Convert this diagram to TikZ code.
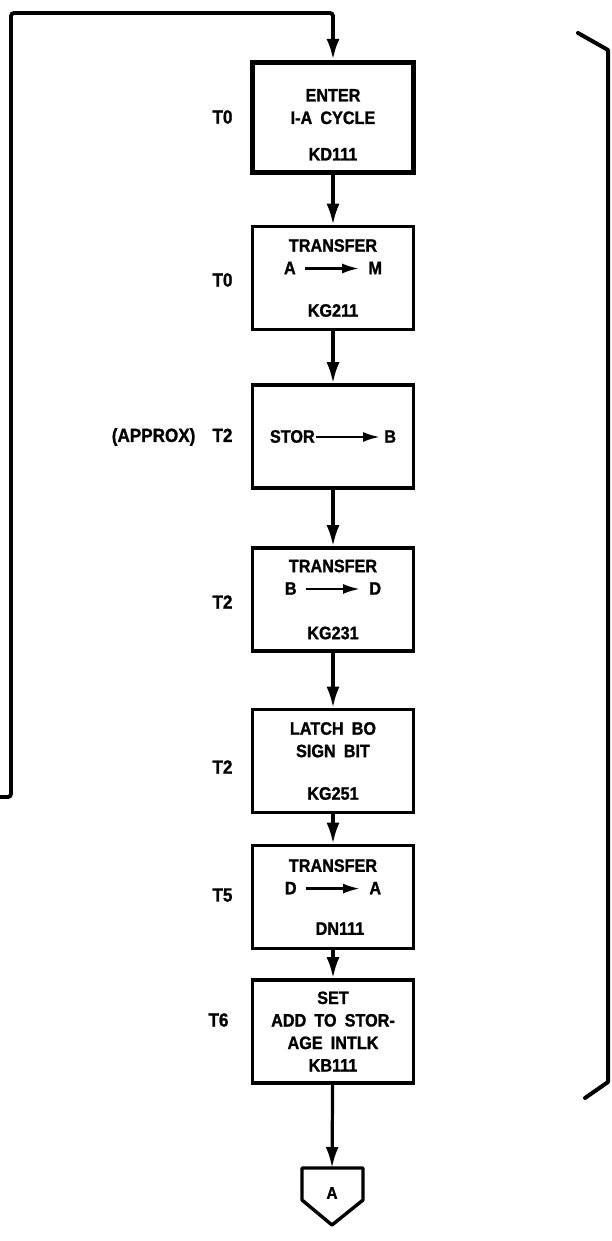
\documentclass[tikz,border=0pt]{standalone}
\usepackage{fontspec}
\usetikzlibrary{arrows.meta}
\newfontfamily\chartfont[FakeStretch=0.9,WordSpace=1.8,BoldFeatures={FakeBold=1.2}]{Liberation Sans}
\newcommand{\xferarrow}[1]{\tikz[baseline=-0.6ex]\draw[line width=2.6pt,-{Latex[length=17pt,width=10pt]}] (0pt,0pt) -- (#1,0pt);}

\begin{document}
\begin{tikzpicture}[x=1pt,y=-1pt,
  stepbox/.style={draw, line width=3.6pt, minimum width=161pt, minimum height=103pt, inner sep=0pt, align=center, font={\chartfont\bfseries\fontsize{18}{22.5}\selectfont}},
  flow/.style={line width=3.2pt, -{Latex[length=21pt,width=13pt]}},
  tlabel/.style={anchor=east, font={\chartfont\bfseries\fontsize{19}{22}\selectfont}}]
\useasboundingbox (0,0) rectangle (612,1241);
\node[stepbox, minimum height=110pt, line width=5pt] (b1) at (333,117.5) {\rule{0pt}{27pt}ENTER\\I-A CYCLE\\[14pt]KD111};
\node[stepbox] (b2) at (333,278) {TRANSFER\\A \xferarrow{54pt} M\\[20pt]KG211};
\node[stepbox] (b3) at (333,436.5) {STOR\xferarrow{64pt}\,B};
\node[stepbox] (b4) at (333,599.5) {TRANSFER\\B \xferarrow{54pt} D\\[22pt]KG231};
\node[stepbox] (b5) at (333,761) {LATCH BO\\SIGN BIT\\[20pt]KG251};
\node[stepbox] (b6) at (333,897) {TRANSFER\\D \xferarrow{54pt} A\\[18pt]\hspace*{14pt}DN111};
\node[stepbox] (b7) at (333,1031.5) {SET\\ADD TO STOR-\\AGE INTLK\hspace*{30pt}\\KB111};
\node[tlabel] (t1) at (236,117) {T0};
\node[tlabel] (t2) at (236,280) {T0};
\node[tlabel] (t3) at (236,437) {(APPROX)\ \ T2};
\node[tlabel] (t4) at (236,602) {T2};
\node[tlabel] (t5) at (236,767) {T2};
\node[tlabel] (t6) at (236,895) {T5};
\node[tlabel] (t7) at (232,1020) {T6};
\node[font={\chartfont\bfseries\fontsize{17}{20}\selectfont}] (offA) at (332,1193) {A};
\coordinate (offtop) at (332,1168);
\coordinate (back) at (0,797);
\coordinate (loopcorner) at (11,13);
\draw[line width=3.4pt, line join=round] (302,1168) -- (363,1168) -- (363,1200) -- (332,1225) -- (302,1200) -- cycle;
\draw[flow, line width=3.8pt, rounded corners=3pt] (back) -| (loopcorner) -| (b1.north);
\draw[flow] (b1) -- (b2);
\draw[flow] (b2) -- (b3);
\draw[flow] (b3) -- (b4);
\draw[flow] (b4) -- (b5);
\draw[flow] (b5) -- (b6);
\draw[flow] (b6) -- (b7);
\draw[flow] (b7) -- (offtop);
\draw[line width=4pt, line cap=round, line join=round] (578,33) -- (608,50) -- (608,1082) -- (585,1098);
\end{tikzpicture}
\end{document}
